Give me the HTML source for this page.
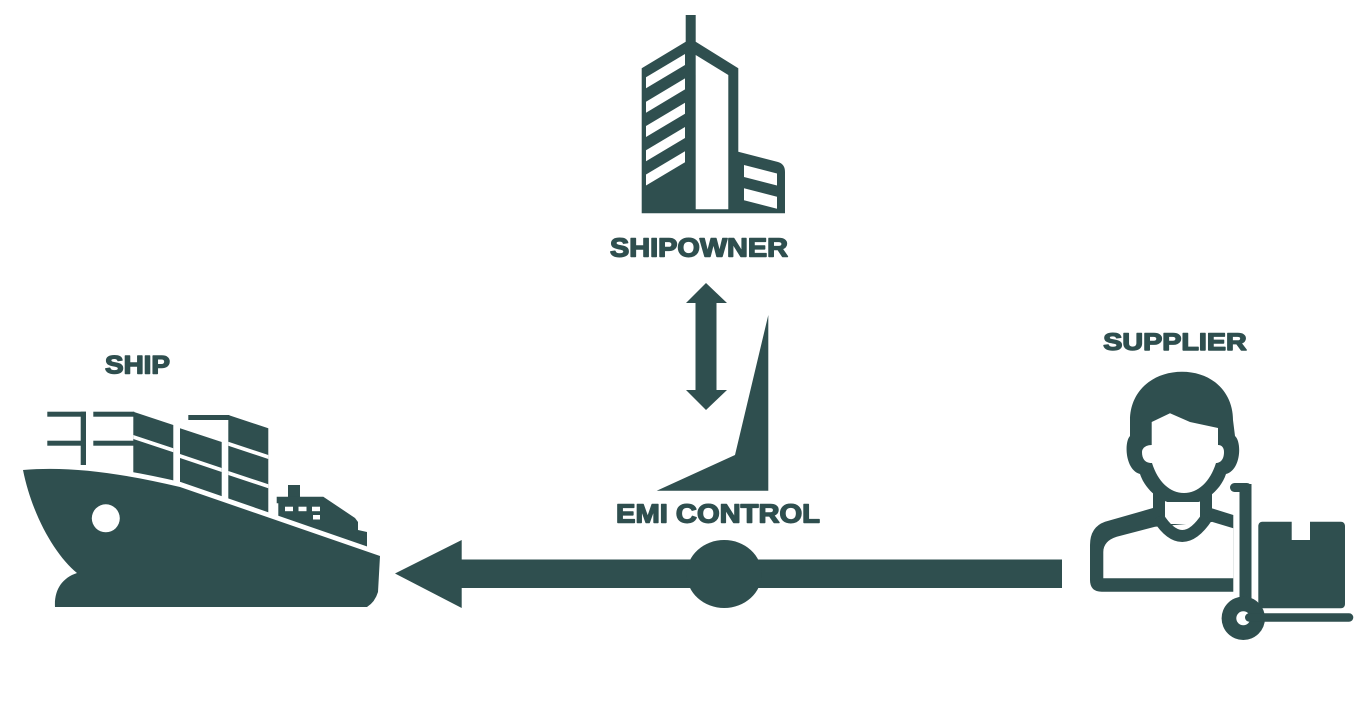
<!DOCTYPE html>
<html><head><meta charset="utf-8"><style>
html,body{margin:0;padding:0;background:#fff;}
svg{display:block;}
text{font-family:"Liberation Sans",Arial,sans-serif;font-weight:bold;fill:#2f4f4f;stroke:#2f4f4f;stroke-width:1.4px;stroke-linejoin:round;}
</style></head><body>
<svg width="1372" height="725" viewBox="0 0 1372 725" xmlns="http://www.w3.org/2000/svg">
<rect width="1372" height="725" fill="#fff"/>
<g fill="#2f4f4f">
<!-- BUILDING -->
<path d="M641.7,68.3 L685.7,41.7 L685.7,15 L695.7,15 L695.7,41.7 L738.3,68.3 L738.3,151.7 L778,162 Q785,164 785,172 L785,213.3 L641.7,213.3 Z"/>
<g fill="#fff">
<path d="M695.7,55 L728.3,75 L728.3,209.3 L695.7,209.3 Z"/>
<path d="M646,77.3 L685,54 L685,65 L646,88.3 Z"/>
<path d="M646,101.7 L685,78.4 L685,89.4 L646,112.7 Z"/>
<path d="M646,126 L685,102.7 L685,113.7 L646,137 Z"/>
<path d="M646,150.3 L685,127 L685,138 L646,161.3 Z"/>
<path d="M646,174.5 L685,151.2 L685,162.2 L646,185.5 Z"/>
<path d="M744,165 L777,173.5 L777,185.5 L744,177 Z"/>
<path d="M744,188.3 L777,196.7 L777,208.7 L744,200.3 Z"/>
</g>

<!-- DOUBLE ARROW -->
<path d="M706,283 L727,303 L716.5,303 L716.5,390 L727,390 L706,410 L686,390 L695.5,390 L695.5,303 L686,303 Z"/>
<!-- TRIANGLE -->
<path d="M656.7,490.7 L768.3,490.7 L768.3,315 L735,455 Z"/>
<!-- MAIN ARROW -->
<path d="M395,573.5 L461.7,540 L461.7,559.5 L1062,559.5 L1062,588 L461.7,588 L461.7,608 Z"/>
<ellipse cx="724.2" cy="574" rx="37.5" ry="34"/>

<!-- SHIP: cranes & containers -->
<rect x="47.3" y="411.7" width="38.7" height="5"/>
<rect x="80.7" y="411.7" width="5.3" height="53.3"/>
<rect x="47.3" y="440.7" width="38.7" height="5"/>
<rect x="93.3" y="411.7" width="41" height="5"/>
<rect x="93.3" y="440.7" width="41" height="5"/>
<path d="M133.3,411.7 L173.3,425 L173.3,505 L133.3,495 Z"/>
<path d="M180,428.3 L221.7,442 L221.7,515 L180,500 Z"/>
<rect x="188.3" y="415" width="41" height="5"/>
<path d="M228.3,415 L268.3,428.3 L268.3,530 L228.3,515 Z"/>
<!-- bridge -->
<rect x="288" y="485" width="12" height="13"/>
<path d="M276.7,496.7 L323.3,496.7 L355,518 L358,522 L358,530 L367,532 L367,560 L278.3,530 L278.3,503.3 L276.7,503.3 Z"/>
<g fill="#fff">
<path d="M133.3,435 L173.3,448.3 L173.3,452.3 L133.3,439 Z"/>
<path d="M180,454 L221.7,468 L221.7,472 L180,458 Z"/>
<path d="M228.3,441.7 L268.3,455 L268.3,459 L228.3,445.7 Z"/>
<path d="M228.3,471 L268.3,484.3 L268.3,488.3 L228.3,475 Z"/>
<rect x="285" y="506.7" width="8" height="4.5"/>
<rect x="298.5" y="506.7" width="8" height="4.5"/>
<rect x="312" y="506.7" width="8" height="4.5"/>
<rect x="313" y="515" width="7" height="4.5"/>
</g>
<!-- white gap above hull -->
<path d="M23,470 C70,466 120,473 180,487 L385,558" fill="none" stroke="#fff" stroke-width="10"/>
<!-- hull -->
<path d="M23,470 C70,466 120,473 180,487 L380,556 L378,592 Q375,602 367,607 L55,607 C54,590 62,578 77,573 C55,555 32,515 23,470 Z"/>
<circle cx="105.8" cy="518.3" r="14" fill="#fff"/>

<!-- SUPPLIER -->
<path d="M1182,371.7 C1152,371.7 1130,392 1130,420 L1130,436 C1124,442 1125,470 1140,474 C1146,492 1164,505 1183,505 C1202,505 1220,492 1226,474 C1241,470 1242,442 1235,436 L1233,420 C1233,392 1212,371.7 1182,371.7 Z"/>
<path fill="#fff" d="M1151.7,422 L1170,413.3 L1190,422 L1218,428 L1218,445 C1222,445 1224,448 1224,452 C1224,460 1220,463 1216,463 C1210,482 1198,493 1184,493 C1170,493 1158,482 1152,463 C1146,463 1142,460 1142,452 C1142,448 1146,445 1151.7,445 Z"/>
<!-- body -->
<path d="M1153,508 L1105,521.7 Q1090,527 1090,545 L1090,580 Q1090,591.7 1101.7,591.7 L1233.3,591.7 L1233.3,515 L1211.7,508.3 Z"/>
<path fill="#fff" d="M1155,526.7 L1116.7,536.7 Q1103.3,541 1103.3,552 L1103.3,578.3 L1233.3,578.3 L1233.3,528.3 L1211.7,521.7 Z"/>
<rect x="1153" y="492" width="12" height="30"/>
<rect x="1200" y="492" width="12" height="30"/>
<rect x="1165" y="502" width="35" height="22" fill="#fff"/>
<path d="M1158,517 Q1182,555 1207,517" fill="none" stroke="#2f4f4f" stroke-width="12"/>
<!-- hand truck -->
<rect x="1239.5" y="484" width="12" height="130"/>
<rect x="1230" y="483" width="21.5" height="9" rx="4.5"/>
<circle cx="1243.3" cy="618.3" r="21.7"/>
<circle cx="1243.3" cy="618.3" r="7" fill="#fff"/>
<rect x="1245" y="613.3" width="108.3" height="8.4" rx="4.2"/>
<rect x="1258.3" y="521.7" width="86.7" height="86.6" rx="4"/>
<rect x="1291.7" y="521" width="18.3" height="19" fill="#fff"/>
</g>

<!-- LABELS -->
<text x="610" y="256.7" font-size="25.5" textLength="178" lengthAdjust="spacingAndGlyphs">SHIPOWNER</text>
<text x="1103.3" y="350" font-size="24.5" textLength="143.4" lengthAdjust="spacingAndGlyphs">SUPPLIER</text>
<text x="105" y="373.3" font-size="25" textLength="65" lengthAdjust="spacingAndGlyphs">SHIP</text>
<text x="616" y="522.7" font-size="26" textLength="204" lengthAdjust="spacingAndGlyphs">EMI CONTROL</text>
</svg>
</body></html>
